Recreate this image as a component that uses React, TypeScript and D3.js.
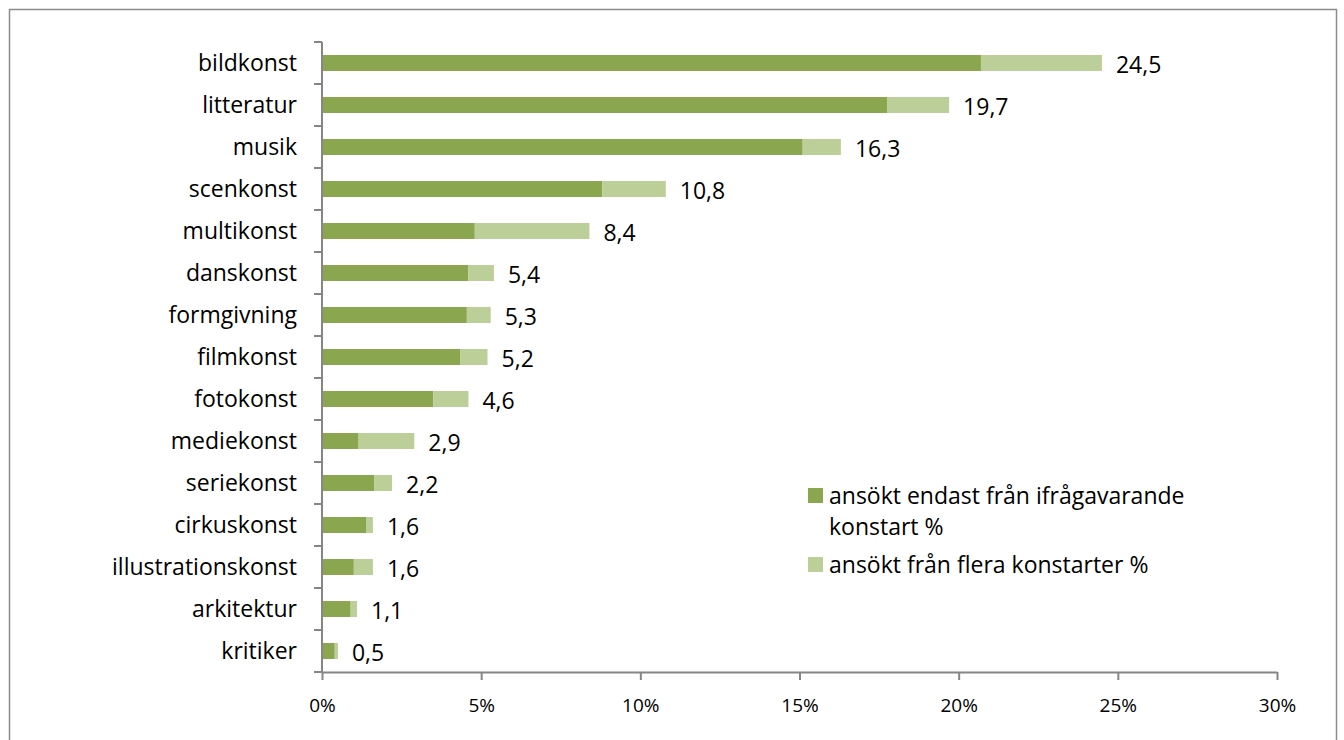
import React, {useEffect, useRef} from 'react';
import * as d3 from "d3";

const categories = ["bildkonst","litteratur","musik","scenkonst","multikonst","danskonst","formgivning","filmkonst","fotokonst","mediekonst","seriekonst","cirkuskonst","illustrationskonst","arkitektur","kritiker"]
const onlyThis = [20.7, 17.75, 15.1, 8.8, 4.8, 4.6, 4.55, 4.35, 3.5, 1.15, 1.65, 1.4, 1.0, 0.9, 0.4]
const totals = [24.5, 19.7, 16.3, 10.8, 8.4, 5.4, 5.3, 5.2, 4.6, 2.9, 2.2, 1.6, 1.6, 1.1, 0.5]
const totalLabels = ["24,5","19,7","16,3","10,8","8,4","5,4","5,3","5,2","4,6","2,9","2,2","1,6","1,6","1,1","0,5"]
const xTicks = [0, 5, 10, 15, 20, 25, 30]
const seriesNames = ["ansökt endast från ifrågavarande konstart %", "ansökt från flera konstarter %"]
const colors = ["#8aa64f", "#bccf98"]

const App = () => {

  const chart = useRef<SVGSVGElement>(null)

  useEffect(() => {
    const width = 1344
    const height = 740
    const margin = {top: 42, left: 322, right: 67, bottom: 68}
    const font = "'Open Sans', Lato, sans-serif"
    const fs = 23

    const svg = d3.select(chart.current)
    svg.selectAll("*").remove()

    svg.append("rect")
      .attr("x", 9.5).attr("y", 9.5)
      .attr("width", 1327).attr("height", 760)
      .attr("fill", "white")
      .attr("stroke", "#8c8c8c")
      .attr("stroke-width", 1.5)

    const x = d3.scaleLinear()
      .domain([0, 30])
      .range([margin.left, width - margin.right])

    const y = d3.scaleBand()
      .domain(categories)
      .range([margin.top, height - margin.bottom])
      .paddingInner(0.62)
      .paddingOuter(0.31)

    const rows = categories.map((c, i) => ({cat: c, a: onlyThis[i], total: totals[i], label: totalLabels[i]}))

    const g = svg.append("g")

    // dark part
    g.selectAll(".bar-a")
      .data(rows)
      .join("rect")
      .attr("x", x(0))
      .attr("y", d => y(d.cat)!)
      .attr("width", d => x(d.a) - x(0))
      .attr("height", y.bandwidth())
      .attr("fill", colors[0])

    // light part
    g.selectAll(".bar-b")
      .data(rows)
      .join("rect")
      .attr("x", d => x(d.a))
      .attr("y", d => y(d.cat)!)
      .attr("width", d => x(d.total) - x(d.a))
      .attr("height", y.bandwidth())
      .attr("fill", colors[1])

    g.selectAll(".lbl")
      .data(rows)
      .join("text")
      .attr("x", d => x(d.total) + 14)
      .attr("y", d => y(d.cat)! + y.bandwidth() / 2 + 2)
      .attr("dy", "0.36em")
      .attr("font-family", font)
      .attr("font-size", fs)
      .attr("fill", "#000")
      .text(d => d.label)

    // y axis
    const yAxis = svg.append("g")
    yAxis.append("line")
      .attr("x1", x(0)).attr("x2", x(0))
      .attr("y1", margin.top).attr("y2", height - margin.bottom)
      .attr("stroke", "#868686").attr("stroke-width", 2)
    const bounds = d3.range(categories.length + 1).map(i => margin.top + i * y.step())
    yAxis.selectAll(".yt")
      .data(bounds)
      .join("line")
      .attr("x1", x(0) - 8).attr("x2", x(0))
      .attr("y1", d => d).attr("y2", d => d)
      .attr("stroke", "#868686").attr("stroke-width", 2)
    yAxis.selectAll(".yl")
      .data(categories)
      .join("text")
      .attr("x", x(0) - 25)
      .attr("y", d => y(d)! + y.bandwidth() / 2)
      .attr("dy", "0.36em")
      .attr("text-anchor", "end")
      .attr("font-family", font)
      .attr("font-size", fs)
      .attr("fill", "#000")
      .text(d => d)

    // x axis
    const xAxis = svg.append("g")
      .attr("transform", `translate(0, ${height - margin.bottom})`)
      .call(d3.axisBottom(x).tickValues(xTicks).tickSize(8).tickSizeOuter(0).tickFormat(d => `${d}%`))
    xAxis.select(".domain").attr("stroke", "#868686").attr("stroke-width", 2)
    xAxis.selectAll(".tick line").attr("stroke", "#868686").attr("stroke-width", 2)
    xAxis.selectAll(".tick text")
      .attr("font-family", font)
      .attr("font-size", 19)
      .attr("fill", "#000")
      .attr("dy", "1.5em")

    // legend
    const legend = svg.append("g").attr("transform", "translate(808, 488)")
    legend.append("rect").attr("width", 15).attr("height", 15).attr("fill", colors[0])
    legend.append("text")
      .attr("x", 21).attr("y", 8).attr("dy", "0.36em")
      .attr("font-family", font).attr("font-size", fs)
      .text("ansökt endast från ifrågavarande")
    legend.append("text")
      .attr("x", 21).attr("y", 39).attr("dy", "0.36em")
      .attr("font-family", font).attr("font-size", fs)
      .text("konstart %")
    legend.append("rect").attr("y", 69).attr("width", 15).attr("height", 15).attr("fill", colors[1])
    legend.append("text")
      .attr("x", 21).attr("y", 77).attr("dy", "0.36em")
      .attr("font-family", font).attr("font-size", fs)
      .text(seriesNames[1])

  }, []);

  return (
    <div style={{position: "fixed", left: 0, top: 0}}>
      <svg ref={chart} width={1344} height={740} style={{display: "block"}}/>
    </div>
  );
};

export default App;
